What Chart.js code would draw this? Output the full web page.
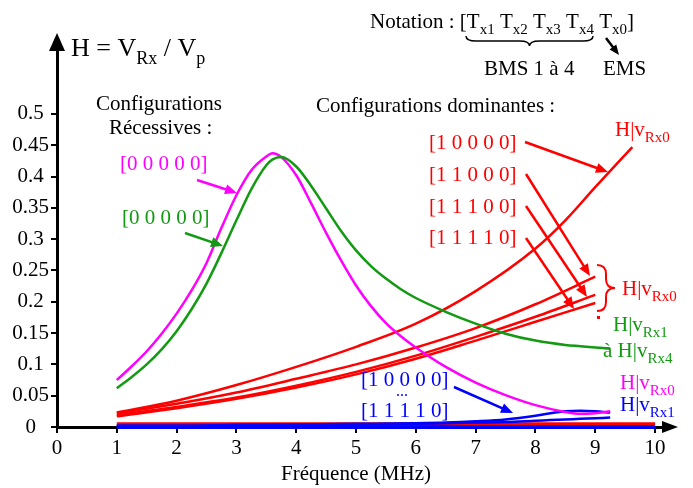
<!DOCTYPE html>
<html>
<head>
<meta charset="utf-8">
<script src="https://cdn.jsdelivr.net/npm/chart.js@4.4.0/dist/chart.umd.min.js"></script>
<style>
  html, body { margin: 0; padding: 0; background: #fff; }
  #wrap { width: 693px; height: 488px; }
</style>
</head>
<body>
<div id="wrap"><canvas id="chart" width="693" height="488"></canvas></div>
<script>
// --- DATA ---
const xTicks = [0, 1, 2, 3, 4, 5, 6, 7, 8, 9, 10];
const yTicks = [0, 0.05, 0.1, 0.15, 0.2, 0.25, 0.3, 0.35, 0.4, 0.45, 0.5];

// recessive configurations [0 0 0 0 0]
const recFreq    = [1, 1.25, 1.5, 1.75, 2, 2.25, 2.5, 2.75, 3, 3.25, 3.5, 3.6, 3.75, 4, 4.25, 4.5, 4.75, 5, 5.25, 5.5, 5.75, 6, 6.5, 7, 7.5, 8, 8.5, 8.75, 9, 9.25];
const recRx0     = [0.075, 0.097, 0.121, 0.149, 0.181, 0.218, 0.262, 0.318, 0.37, 0.41, 0.432, 0.437, 0.431, 0.402, 0.357, 0.31, 0.266, 0.226, 0.193, 0.166, 0.145, 0.127, 0.096, 0.071, 0.051, 0.035, 0.024, 0.021, 0.022, 0.025];
const recRx1to4  = [0.062, 0.08, 0.1, 0.124, 0.153, 0.188, 0.229, 0.278, 0.33, 0.38, 0.418, 0.427, 0.431, 0.416, 0.385, 0.349, 0.313, 0.282, 0.257, 0.237, 0.22, 0.206, 0.184, 0.165, 0.149, 0.138, 0.131, 0.129, 0.127, 0.125];

// dominant configurations
const domFreqA   = [1, 2, 3, 4, 5, 6, 7, 8, 8.5, 9, 9.62];
const dom10000   = [0.023, 0.042, 0.067, 0.096, 0.128, 0.165, 0.217, 0.285, 0.33, 0.383, 0.447];
const domFreqB   = [1, 2, 3, 4, 5, 6, 7, 8, 9];
const dom11000   = [0.022, 0.037, 0.055, 0.077, 0.1, 0.127, 0.158, 0.196, 0.24];
const dom11100   = [0.019, 0.032, 0.047, 0.066, 0.088, 0.114, 0.144, 0.176, 0.211];
const dom11110   = [0.017, 0.03, 0.045, 0.063, 0.084, 0.109, 0.138, 0.168, 0.198];

// dominant configurations seen on Rx1..Rx4 (blue) and flat Rx0 (red)
const blueFreq   = [1, 2, 3, 4, 5, 6, 6.5, 7, 7.5, 8, 8.25, 8.5, 8.75, 9, 9.25];
const blueHigh   = [0.002, 0.002, 0.003, 0.004, 0.005, 0.006, 0.007, 0.009, 0.012, 0.018, 0.022, 0.025, 0.026, 0.025, 0.023];
const blueLow    = [0.002, 0.002, 0.003, 0.003, 0.004, 0.005, 0.006, 0.007, 0.008, 0.01, 0.011, 0.012, 0.013, 0.014, 0.015];
const flatFreq   = [1, 10];
const flatRed    = [0.005, 0.005];
const flatBlue   = [0, 0];

const MAGENTA = '#ff00ff', GREEN = '#129a12', RED = '#ff0000', BLUE = '#0000ff';
const SERIF = '"Liberation Serif", "DejaVu Serif", serif';

function pts(xs, ys) { return xs.map((x, i) => ({ x, y: ys[i] })); }

function series(xs, ys, color, width) {
  return {
    data: pts(xs, ys), borderColor: color, borderWidth: width || 2.5,
    pointRadius: 0, fill: false, cubicInterpolationMode: 'monotone', clip: 6
  };
}

// --- drawing helpers for the annotations ---
function rich(ctx, x, y, parts, color, size) {
  ctx.fillStyle = color;
  ctx.textAlign = 'left';
  ctx.textBaseline = 'alphabetic';
  for (const p of parts) {
    const sub = Array.isArray(p);
    const t = sub ? p[0] : p;
    ctx.font = (sub ? Math.round(size * 0.7) : size) + 'px ' + SERIF;
    ctx.fillText(t, x, y + (sub ? Math.round(size * 0.3) : 0));
    x += ctx.measureText(t).width;
  }
  return x;
}

function arrow(ctx, x1, y1, x2, y2, color, w, head) {
  w = w || 2.5; head = head || 12;
  const a = Math.atan2(y2 - y1, x2 - x1), c = Math.cos(a), s = Math.sin(a);
  ctx.strokeStyle = color; ctx.fillStyle = color; ctx.lineWidth = w;
  ctx.beginPath(); ctx.moveTo(x1, y1); ctx.lineTo(x2 - c * head * 0.8, y2 - s * head * 0.8); ctx.stroke();
  ctx.beginPath();
  ctx.moveTo(x2, y2);
  ctx.lineTo(x2 - head * c + head * 0.42 * s, y2 - head * s - head * 0.42 * c);
  ctx.lineTo(x2 - head * c - head * 0.42 * s, y2 - head * s + head * 0.42 * c);
  ctx.closePath(); ctx.fill();
}

function hBrace(ctx, x1, x2, y, d, color) {
  const m = (x1 + x2) / 2, h = d / 2;
  ctx.strokeStyle = color; ctx.lineWidth = 1.5;
  ctx.beginPath();
  ctx.moveTo(x1, y);
  ctx.quadraticCurveTo(x1, y + h, x1 + d, y + h);
  ctx.lineTo(m - d, y + h);
  ctx.quadraticCurveTo(m, y + h, m, y + d);
  ctx.quadraticCurveTo(m, y + h, m + d, y + h);
  ctx.lineTo(x2 - d, y + h);
  ctx.quadraticCurveTo(x2, y + h, x2, y);
  ctx.stroke();
}

function vBrace(ctx, x, y1, y2, w, color) {
  const m = (y1 + y2) / 2, b = x + w / 2, r = w / 2;
  ctx.strokeStyle = color; ctx.lineWidth = 2;
  ctx.beginPath();
  ctx.moveTo(x, y1);
  ctx.quadraticCurveTo(b, y1, b, y1 + r);
  ctx.lineTo(b, m - r);
  ctx.quadraticCurveTo(b, m, x + w, m);
  ctx.quadraticCurveTo(b, m, b, m + r);
  ctx.lineTo(b, y2 - r);
  ctx.quadraticCurveTo(b, y2, x, y2);
  ctx.stroke();
}

const annotations = {
  id: 'annotations',
  afterDraw(chart) {
    const ctx = chart.ctx;
    const { left, right, top, bottom } = chart.chartArea;
    ctx.save();

    // axis arrow heads
    ctx.fillStyle = '#000';
    ctx.beginPath(); ctx.moveTo(left, top - 12); ctx.lineTo(left - 8, top + 6); ctx.lineTo(left + 8, top + 6); ctx.closePath(); ctx.fill();
    ctx.beginPath(); ctx.moveTo(right + 8, bottom); ctx.lineTo(right - 8, bottom - 6); ctx.lineTo(right - 8, bottom + 6); ctx.closePath(); ctx.fill();

    // axis titles
    rich(ctx, 71, 56, ['H = V', ['Rx'], ' / V', ['p']], '#000', 26);
    ctx.font = '21px ' + SERIF; ctx.fillStyle = '#000'; ctx.textAlign = 'center';
    ctx.fillText('Fréquence (MHz)', chart.scales.x.getPixelForValue(5), 480);

    // notation header
    rich(ctx, 370, 28, ['Notation : [T', ['x1'], ' T', ['x2'], ' T', ['x3'], ' T', ['x4'], ' T', ['x0'], ']'], '#000', 21);
    hBrace(ctx, 466, 593, 36, 10, '#000');
    rich(ctx, 484, 75, ['BMS 1 à 4'], '#000', 21);
    rich(ctx, 603, 75, ['EMS'], '#000', 21);
    arrow(ctx, 606, 38, 619, 55, '#000', 2.5, 10);

    // recessive
    rich(ctx, 96, 110, ['Configurations'], '#000', 21);
    rich(ctx, 109, 134, ['Récessives :'], '#000', 21);
    rich(ctx, 120, 170, ['[0 0 0 0 0]'], MAGENTA, 21);
    arrow(ctx, 197, 180, 237, 193, MAGENTA);
    rich(ctx, 122, 224, ['[0 0 0 0 0]'], GREEN, 21);
    arrow(ctx, 185, 233, 223, 246, GREEN);

    // dominant
    rich(ctx, 316, 112, ['Configurations dominantes :'], '#000', 21);
    rich(ctx, 429, 149, ['[1 0 0 0 0]'], RED, 21);
    rich(ctx, 429, 181, ['[1 1 0 0 0]'], RED, 21);
    rich(ctx, 429, 213, ['[1 1 1 0 0]'], RED, 21);
    rich(ctx, 429, 244, ['[1 1 1 1 0]'], RED, 21);
    arrow(ctx, 525, 142, 608, 172, RED);
    arrow(ctx, 526, 174, 590, 276, RED);
    arrow(ctx, 526, 206, 587, 297, RED);
    arrow(ctx, 526, 238, 574, 309, RED);
    rich(ctx, 615, 136, ['H|v', ['Rx0']], RED, 21);
    vBrace(ctx, 597, 265, 311, 18, RED);
    rich(ctx, 622, 295, ['H|v', ['Rx0']], RED, 21);
    ctx.fillStyle = RED; ctx.fillRect(597, 316, 3, 3);
    rich(ctx, 613, 331, ['H|v', ['Rx1']], GREEN, 21);
    rich(ctx, 603, 357, ['à H|v', ['Rx4']], GREEN, 21);

    // dominant on the other receivers
    rich(ctx, 361, 386, ['[1 0 0 0 0]'], BLUE, 21);
    rich(ctx, 396, 396, ['...'], BLUE, 16);
    rich(ctx, 361, 417, ['[1 1 1 1 0]'], BLUE, 21);
    arrow(ctx, 454, 387, 513, 413, BLUE);
    rich(ctx, 620, 389, ['H|v', ['Rx0']], MAGENTA, 21);
    rich(ctx, 620, 411, ['H|v', ['Rx1']], BLUE, 21);

    ctx.restore();
  }
};

new Chart(document.getElementById('chart'), {
  type: 'line',
  data: {
    datasets: [
      series(recFreq, recRx1to4, GREEN),
      series(recFreq, recRx0, MAGENTA),
      series(domFreqA, dom10000, RED),
      series(domFreqB, dom11000, RED),
      series(domFreqB, dom11100, RED),
      series(domFreqB, dom11110, RED),
      series(blueFreq, blueHigh, BLUE),
      series(blueFreq, blueLow, BLUE),
      series(flatFreq, flatRed, RED, 3),
      series(flatFreq, flatBlue, BLUE, 4)
    ]
  },
  options: {
    responsive: false,
    animation: false,
    layout: { padding: { left: 0, right: 23, top: 45, bottom: 0 } },
    plugins: { legend: { display: false }, tooltip: { enabled: false } },
    scales: {
      x: {
        type: 'linear', min: 0, max: 10.25,
        afterBuildTicks: s => { s.ticks = xTicks.map(v => ({ value: v })); },
        afterFit: s => { s.height = 61; },
        border: { display: true, color: '#000', width: 3 },
        grid: { display: true, drawOnChartArea: false, drawTicks: true, tickLength: 6, color: '#000', lineWidth: 2 },
        ticks: { color: '#000', font: { family: SERIF, size: 21 }, padding: 3, maxRotation: 0 }
      },
      y: {
        type: 'linear', min: 0, max: 0.61,
        afterBuildTicks: s => { s.ticks = yTicks.map(v => ({ value: v })); },
        afterFit: s => { s.width = 57; },
        border: { display: true, color: '#000', width: 3 },
        grid: { display: true, drawOnChartArea: false, drawTicks: true, tickLength: 6, color: '#000', lineWidth: 2 },
        ticks: { color: '#000', font: { family: SERIF, size: 21 }, padding: 2, crossAlign: 'center',
                 callback: v => String(Math.round(v * 100) / 100) }
      }
    }
  },
  plugins: [annotations]
});
</script>
</body>
</html>
